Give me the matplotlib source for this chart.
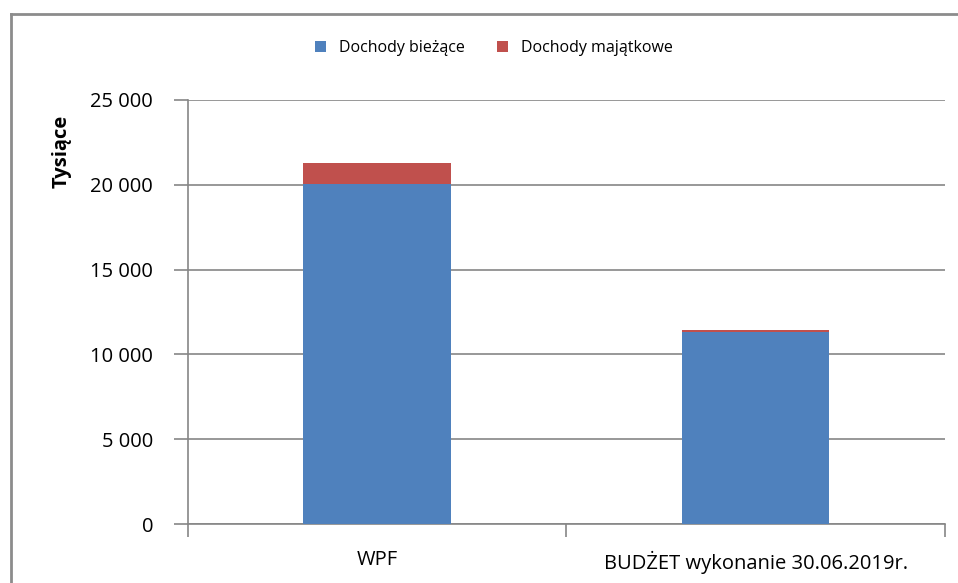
import matplotlib.pyplot as plt
from matplotlib.lines import Line2D
import numpy as np

plt.rcParams['font.family'] = ['Open Sans', 'DejaVu Sans']

kategorie = ['WPF', 'BUDŻET wykonanie 30.06.2019r.']
dochody_biezace = [20050, 11310]
dochody_majatkowe = [1230, 110]
yticks = [0, 5000, 10000, 15000, 20000, 25000]
ytick_labels = ['0', '5 000', '10 000', '15 000', '20 000', '25 000']

blue = '#4F81BD'
red = '#C0504D'
grey = '#868686'

fig = plt.figure(figsize=(9.58, 5.83), dpi=100)
ax = fig.add_axes([0.196, 0.1012, 0.7904, 0.7273])

x = np.arange(len(kategorie))
ax.bar(x, dochody_biezace, width=0.39, color=blue, label='Dochody bieżące', zorder=3)
ax.bar(x, dochody_majatkowe, width=0.39, bottom=dochody_biezace, color=red,
       label='Dochody majątkowe', zorder=3)

ax.set_xlim(-0.5, 1.5)
ax.set_ylim(0, 25000)
ax.set_yticks(yticks)
ax.set_yticklabels(ytick_labels, fontsize=14.5)
ax.set_xticks(x)
ax.set_xticklabels(kategorie, fontsize=14.5)
ax.set_xticks([-0.5, 0.5, 1.5], minor=True)
ax.tick_params(axis='x', which='major', length=0, pad=19)
ax.tick_params(axis='x', which='minor', length=9, color=grey, width=1.2)
ax.tick_params(axis='y', length=10, color=grey, width=1.2, pad=15)

ax.grid(axis='y', color=grey, linewidth=1.2, zorder=0)
for s in ['top', 'right']:
    ax.spines[s].set_visible(False)
for s in ['left', 'bottom']:
    ax.spines[s].set_color(grey)
    ax.spines[s].set_linewidth(1.2)

fig.text(62 / 958, 1 - 151 / 583, 'Tysiące', rotation=90, fontsize=14.5,
         fontweight='bold', ha='center', va='center')

fig.legend(loc='center', bbox_to_anchor=(494 / 958, 1 - 48 / 583), ncol=2,
           frameon=False, fontsize=11.5, handlelength=0.7, handleheight=0.7,
           columnspacing=2.0, handletextpad=0.8)

# ramka wykresu
fig.add_artist(Line2D([10.5 / 958, 10.5 / 958], [0, 1 - 13.5 / 583],
                      transform=fig.transFigure, color='#8c8c8c', linewidth=2))
fig.add_artist(Line2D([10.5 / 958, 1], [1 - 13.5 / 583, 1 - 13.5 / 583],
                      transform=fig.transFigure, color='#8c8c8c', linewidth=2))

fig.savefig('out.png', dpi=100)
